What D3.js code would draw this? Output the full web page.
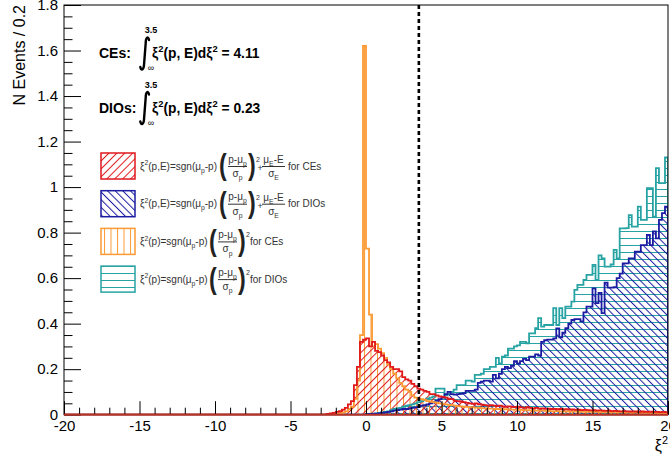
<!DOCTYPE html>
<html><head><meta charset="utf-8">
<script src="https://cdn.jsdelivr.net/npm/d3@7"></script>
<style>
body{margin:0;background:#fff}
svg{display:block}
text{font-family:"Liberation Sans",Arial,Helvetica,sans-serif}
</style>
</head><body>
<svg id="c" width="670" height="458"></svg>
<script>
// ---------------- data ----------------
const binWidth = 0.2;
const xDomain = [-20, 20];
const yDomain = [0, 1.8];
const xMajorTicks = [-20, -15, -10, -5, 0, 5, 10, 15, 20];
const yMajorTicks = [0, 0.2, 0.4, 0.6, 0.8, 1, 1.2, 1.4, 1.6, 1.8];
const yTickLabels = ["0", "0.2", "0.4", "0.6", "0.8", "1", "1.2", "1.4", "1.6", "1.8"];
const cutValue = 3.5;

// CEs, xi^2(p,E)  (red)
const cePEStart = -2.6;
const cePEValues = [
  0.004, 0.006, 0.008, 0.012, 0.016, 0.022, 0.03, 0.045, 0.06, 0.13,
  0.21, 0.32, 0.33, 0.335, 0.30, 0.32, 0.28, 0.275, 0.26, 0.24,
  0.23, 0.21, 0.20, 0.20, 0.19, 0.165, 0.155, 0.15, 0.135, 0.125,
  0.115, 0.11, 0.105, 0.10, 0.09, 0.09, 0.085, 0.08, 0.078, 0.075,
  0.07, 0.068, 0.062, 0.06, 0.058, 0.055, 0.052, 0.05, 0.048, 0.05,
  0.046, 0.044, 0.042, 0.04, 0.042, 0.04, 0.038, 0.04, 0.036, 0.035,
  0.037, 0.034, 0.033, 0.035, 0.032, 0.03, 0.033, 0.03, 0.028, 0.03,
  0.027, 0.028, 0.026, 0.027, 0.025, 0.026, 0.024, 0.025, 0.023, 0.024,
  0.022, 0.023, 0.021, 0.022, 0.02, 0.021, 0.02, 0.019, 0.02, 0.018,
  0.019, 0.018, 0.017, 0.018, 0.016, 0.017, 0.016, 0.015, 0.016, 0.015,
  0.014, 0.015, 0.014, 0.013, 0.014, 0.013, 0.012, 0.013, 0.012, 0.012,
  0.011, 0.012, 0.011
];

// CEs, xi^2(p)  (orange)
const cePStart = -2.0;
const cePValues = [
  0.004, 0.006, 0.01, 0.015, 0.025, 0.035, 0.07, 0.15, 0.35, 1.62,
  0.73, 0.44, 0.30, 0.31, 0.29, 0.27, 0.25, 0.22, 0.20, 0.18,
  0.16, 0.14, 0.125, 0.11, 0.10, 0.085, 0.075, 0.07, 0.068, 0.065,
  0.06, 0.058, 0.055, 0.052, 0.05, 0.048, 0.045, 0.043, 0.042, 0.04,
  0.038, 0.037, 0.035, 0.034, 0.033, 0.032, 0.031, 0.03, 0.029, 0.028,
  0.027, 0.027, 0.026, 0.025, 0.025, 0.024, 0.024, 0.023, 0.022, 0.022,
  0.021, 0.021, 0.02, 0.02, 0.019, 0.019, 0.018, 0.018, 0.018, 0.017,
  0.017, 0.016, 0.016, 0.016, 0.015, 0.015, 0.015, 0.014, 0.014, 0.014,
  0.013, 0.013, 0.013, 0.012, 0.012, 0.012, 0.012, 0.011, 0.011, 0.011,
  0.011, 0.01, 0.01, 0.01, 0.01, 0.01, 0.009, 0.009, 0.009, 0.009,
  0.009, 0.008, 0.008, 0.008, 0.008, 0.008, 0.008, 0.007, 0.007, 0.007
];

// DIOs, xi^2(p,E)  (blue)
const dioPEStart = 0.0;
const dioPEValues = [
  0.002, 0.003, 0.004, 0.005, 0.006, 0.008, 0.01, 0.012, 0.015, 0.018,
  0.02, 0.022, 0.025, 0.025, 0.028, 0.03, 0.032, 0.035, 0.04, 0.042,
  0.045, 0.05, 0.055, 0.062, 0.068, 0.075, 0.09, 0.10, 0.09, 0.088,
  0.09, 0.092, 0.095, 0.105, 0.105, 0.105, 0.11, 0.14, 0.145, 0.15,
  0.15, 0.145, 0.175, 0.16, 0.18, 0.2, 0.21, 0.205, 0.215, 0.235,
  0.225, 0.235, 0.245, 0.24, 0.255, 0.255, 0.265, 0.26, 0.32, 0.327,
  0.33, 0.33, 0.335, 0.379, 0.34, 0.36, 0.38, 0.40, 0.416, 0.42,
  0.42, 0.41, 0.45, 0.475, 0.475, 0.555, 0.49, 0.535, 0.446, 0.58,
  0.558, 0.558, 0.56, 0.6, 0.62, 0.665, 0.665, 0.687, 0.687, 0.716,
  0.716, 0.745, 0.745, 0.79, 0.745, 0.805, 0.775, 0.856, 0.886, 0.914
];

// DIOs, xi^2(p)  (teal)
const dioPStart = 0.0;
const dioPValues = [
  0.003, 0.004, 0.005, 0.006, 0.008, 0.01, 0.012, 0.015, 0.02, 0.025,
  0.028, 0.03, 0.035, 0.04, 0.042, 0.045, 0.05, 0.055, 0.06, 0.065,
  0.07, 0.075, 0.08, 0.115, 0.115, 0.115, 0.085, 0.09, 0.1, 0.11,
  0.13, 0.13, 0.13, 0.15, 0.15, 0.145, 0.175, 0.175, 0.18, 0.2,
  0.2, 0.21, 0.21, 0.25, 0.225, 0.255, 0.26, 0.29, 0.29, 0.3,
  0.305, 0.32, 0.32, 0.314, 0.357, 0.357, 0.38, 0.424, 0.387, 0.394,
  0.394, 0.394, 0.468, 0.394, 0.468, 0.424, 0.475, 0.475, 0.497, 0.548,
  0.57, 0.57, 0.592, 0.614, 0.614, 0.658, 0.592, 0.70, 0.687, 0.651,
  0.651, 0.66, 0.724, 0.687, 0.819, 0.819, 0.82, 0.877, 0.826, 0.826,
  0.914, 0.856, 0.856, 0.995, 0.995, 0.87, 1.083, 1.017, 1.017, 1.13
];

// ---------------- layout ----------------
const svg = d3.select("#c");
const L = 64, R = 668, T = 5, B = 414.7;
const x = d3.scaleLinear().domain(xDomain).range([L, R]);
const y = d3.scaleLinear().domain(yDomain).range([B, T]);

const COL = {
  red: "#e0191b",
  blue: "#1c1ca3",
  orange: "#fb9a35",
  teal: "#27a3a3"
};

const defs = svg.append("defs");
function hatch(id, color, spacing, angle) {
  const p = defs.append("pattern").attr("id", id)
    .attr("patternUnits", "userSpaceOnUse")
    .attr("width", spacing).attr("height", spacing)
    .attr("patternTransform", `rotate(${angle})`);
  p.append("line").attr("x1", 0.5).attr("y1", -1).attr("x2", 0.5).attr("y2", spacing + 1)
    .attr("stroke", color).attr("stroke-width", 1);
}
hatch("hRed", COL.red, 5.6, 45);
hatch("hBlue", COL.blue, 5.4, -45);
hatch("hOrange", COL.orange, 6.5, 0);
hatch("hTeal", COL.teal, 7, 90);

defs.append("clipPath").attr("id", "frameClip")
  .append("rect").attr("x", L).attr("y", T).attr("width", R - L).attr("height", B - T);

// histogram path builder (full range, zero bins outside data)
const nBins = Math.round((xDomain[1] - xDomain[0]) / binWidth);
function fullBins(start, vals) {
  const off = Math.round((start - xDomain[0]) / binWidth);
  const out = [];
  for (let i = 0; i < nBins; i++) {
    const j = i - off;
    out.push({x0: xDomain[0] + i * binWidth, x1: xDomain[0] + (i + 1) * binWidth,
              v: (j >= 0 && j < vals.length) ? vals[j] : 0});
  }
  return out;
}
function histPoints(bins) {
  const pts = [[x(bins[0].x0), y(0)]];
  bins.forEach(b => { pts.push([x(b.x0), y(b.v)]); pts.push([x(b.x1), y(b.v)]); });
  pts.push([x(bins[bins.length - 1].x1), y(0)]);
  return pts;
}
const line = d3.line();

const series = [
  {key: "teal", start: dioPStart, vals: dioPValues, fill: "url(#hTeal)"},
  {key: "blue", start: dioPEStart, vals: dioPEValues, fill: "url(#hBlue)"},
  {key: "orange", start: cePStart, vals: cePValues, fill: "url(#hOrange)"},
  {key: "red", start: cePEStart, vals: cePEValues, fill: "url(#hRed)"}
];

const plot = svg.append("g").attr("clip-path", "url(#frameClip)");
series.forEach(s => {
  s.pts = histPoints(fullBins(s.start, s.vals));
  plot.append("path").attr("d", line(s.pts) + "Z").attr("fill", s.fill).attr("stroke", "none");
});
series.forEach(s => {
  plot.append("path").attr("d", line(s.pts)).attr("fill", "none")
    .attr("stroke", COL[s.key]).attr("stroke-width", 1.8).attr("stroke-linejoin", "miter");
});

// ---------------- axes ----------------
const xMinor = d3.range(-20, 20.001, 1).filter(v => v % 5 !== 0);
const yMinor = d3.range(0, 1.8001, 0.05).map(v => +v.toFixed(2)).filter(v => Math.abs(v * 5 - Math.round(v * 5)) > 1e-6);

const gx = svg.append("g").attr("transform", `translate(0,${B})`)
  .call(d3.axisBottom(x).tickValues(xMajorTicks).tickSize(-13.5).tickPadding(6).tickFormat(d3.format("d")));
const gxm = svg.append("g").attr("transform", `translate(0,${B})`)
  .call(d3.axisBottom(x).tickValues(xMinor).tickSize(-7).tickFormat(""));
const gy = svg.append("g").attr("transform", `translate(${L},0)`)
  .call(d3.axisLeft(y).tickValues(yMajorTicks).tickSize(-17).tickPadding(6)
    .tickFormat((d, i) => yTickLabels[i]));
const gym = svg.append("g").attr("transform", `translate(${L},0)`)
  .call(d3.axisLeft(y).tickValues(yMinor).tickSize(-8.5).tickFormat(""));
[gx, gxm, gy, gym].forEach(g => {
  g.select(".domain").remove();
  g.selectAll(".tick line").attr("stroke", "#000").attr("stroke-width", 1);
  g.selectAll("text").attr("font-size", 15).attr("fill", "#000")
    .attr("font-family", '"Liberation Sans",Arial,sans-serif');
});
gx.selectAll(".tick text").text(d => d3.format("d")(d).replace("−", "-"));

// frame
svg.append("rect").attr("x", L).attr("y", T).attr("width", R - L).attr("height", B - T)
  .attr("fill", "none").attr("stroke", "#000").attr("stroke-width", 1);

// red baseline over frame (ROOT draws histogram outline on the axis)
svg.append("path").attr("d", line([[x(-20), y(0)], [x(20), y(0)]]))
  .attr("stroke", "#b5342a").attr("stroke-width", 2);

// cut line
svg.append("line").attr("x1", x(cutValue)).attr("x2", x(cutValue))
  .attr("y1", y(yDomain[1])).attr("y2", y(0))
  .attr("stroke", "#000").attr("stroke-width", 2.6).attr("stroke-dasharray", "4,3");

// axis titles
svg.append("text").attr("transform", "translate(25,5) rotate(-90)")
  .attr("text-anchor", "end").attr("font-size", 16).text("N Events / 0.2");

function rich(g, xp, yp, parts, size, anchor, weight, fill) {
  const t = g.append("text").attr("x", xp).attr("y", yp).attr("font-size", size)
    .attr("text-anchor", anchor || "start").attr("font-weight", weight || "normal")
    .attr("fill", fill || "#000");
  let cur = 0;
  parts.forEach(([s, k]) => {
    const off = k === "sup" ? -size * 0.42 : k === "sub" ? size * 0.32 : 0;
    const ts = t.append("tspan").attr("dy", off - cur).text(s);
    if (k !== "n") ts.attr("font-size", size * 0.68);
    cur = off;
  });
  return t;
}

rich(svg, 668, 451, [["ξ", "n"], ["2", "sup"]], 16, "end");

// ---------------- integrals ----------------
function integralBlock(label, value, yc) {
  const g = svg.append("g");
  g.append("text").attr("x", 99).attr("y", yc + 5).attr("font-size", 14).attr("font-weight", "bold").text(label);
  const ix = 144.5;
  g.append("path")
    .attr("d", `M${ix + 4.5},${yc - 13} C${ix + 3.8},${yc - 17} ${ix + 1.2},${yc - 16} ${ix + 1.2},${yc - 10} L${ix - 0.5},${yc + 12} C${ix - 0.8},${yc + 17} ${ix - 3.5},${yc + 18} ${ix - 4.2},${yc + 14}`)
    .attr("fill", "none").attr("stroke", "#000").attr("stroke-width", 2.4).attr("stroke-linecap", "round");
  g.append("text").attr("x", 151).attr("y", yc - 20).attr("font-size", 9).attr("font-weight", "bold")
    .attr("text-anchor", "middle").text("3.5");
  g.append("text").attr("x", 151).attr("y", yc + 18).attr("font-size", 9)
    .attr("text-anchor", "middle").text("∞");
  rich(g, 152, yc + 5, [["ξ", "n"], ["2", "sup"], ["(p, E)dξ", "n"], ["2", "sup"], [" = " + value, "n"]], 13.8, "start", "bold");
}
integralBlock("CEs:", "4.11", 53);
integralBlock("DIOs:", "0.23", 107.5);

// ---------------- legend ----------------
const legendEntries = [
  {key: "red", fill: "url(#hRed)", kind: "pE", who: "CEs"},
  {key: "blue", fill: "url(#hBlue)", kind: "pE", who: "DIOs"},
  {key: "orange", fill: "url(#hOrange)", kind: "p", who: "CEs"},
  {key: "teal", fill: "url(#hTeal)", kind: "p", who: "DIOs"}
];
const legTxt = "#333";
legendEntries.forEach((e, i) => {
  const yc = 166 + i * 37.7;
  const g = svg.append("g");
  g.append("rect").attr("x", 101).attr("y", yc - 13).attr("width", 34).attr("height", 26)
    .attr("fill", e.fill).attr("stroke", COL[e.key]).attr("stroke-width", 1.5);
  const fs = 10;
  let x0 = 140;
  if (e.kind === "pE") {
    rich(g, x0, yc + 3.5, [["ξ", "n"], ["2", "sup"], ["(p,E)=sgn(μ", "n"], ["p", "sub"], ["-p)", "n"]], fs, "start", "normal", legTxt);
  } else {
    rich(g, x0, yc + 3.5, [["ξ", "n"], ["2", "sup"], ["(p)=sgn(μ", "n"], ["p", "sub"], ["-p)", "n"]], fs, "start", "normal", legTxt);
  }
  const pl = e.kind === "pE" ? 219 : 209;
  g.append("text").attr("x", pl).attr("y", yc + 9.5).attr("font-size", 29).attr("font-weight", "bold")
    .attr("fill", "#222").attr("transform", `translate(${pl},${yc}) scale(0.8,1) translate(${-pl},${-yc})`).text("(");
  const fx0 = pl + 9, fx1 = pl + 28, fc = (fx0 + fx1) / 2;
  rich(g, fc, yc - 3.5, [["p-μ", "n"], ["p", "sub"]], fs, "middle", "normal", legTxt);
  g.append("line").attr("x1", fx0).attr("x2", fx1).attr("y1", yc + 0.5).attr("y2", yc + 0.5)
    .attr("stroke", legTxt).attr("stroke-width", 1);
  rich(g, fc, yc + 11, [["σ", "n"], ["p", "sub"]], fs, "middle", "normal", legTxt);
  const pr = fx1 + 1;
  g.append("text").attr("x", pr).attr("y", yc + 9.5).attr("font-size", 29).attr("font-weight", "bold")
    .attr("fill", "#222").attr("transform", `translate(${pr},${yc}) scale(0.8,1) translate(${-pr},${-yc})`).text(")");
  g.append("text").attr("x", pr + 8).attr("y", yc - 4).attr("font-size", 7).attr("fill", legTxt).text("2");
  let tx = pr + 12;
  if (e.kind === "pE") {
    g.append("text").attr("x", pr + 9.5).attr("y", yc + 5).attr("font-size", 9).attr("fill", legTxt).text("+");
    const ex0 = pr + 14, ex1 = pr + 37, ec = (ex0 + ex1) / 2;
    rich(g, ec, yc - 3, [["μ", "n"], ["E", "sub"], ["-E", "n"]], fs, "middle", "normal", legTxt);
    g.append("line").attr("x1", ex0).attr("x2", ex1).attr("y1", yc + 0.5).attr("y2", yc + 0.5)
      .attr("stroke", legTxt).attr("stroke-width", 1);
    rich(g, ec, yc + 11, [["σ", "n"], ["E", "sub"]], fs, "middle", "normal", legTxt);
    tx = ex1 + 3;
  }
  g.append("text").attr("x", tx).attr("y", yc + 3.5).attr("font-size", fs).attr("fill", legTxt).text("for " + e.who);
});
</script>
</body></html>
